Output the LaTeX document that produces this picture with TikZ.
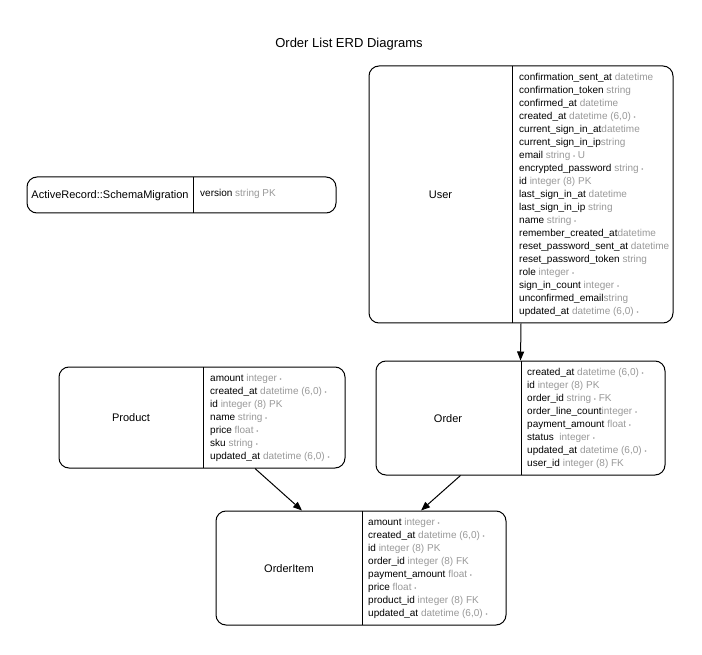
\documentclass[tikz,border=0pt]{standalone}
\usepackage{fontspec}
\setmainfont{Liberation Sans}
\usetikzlibrary{arrows.meta}
\definecolor{typegray}{HTML}{999999}
\newcommand\nnull{{\fontsize{6}{6}\selectfont •}}
\newcommand\erdfields[4]{%
  \foreach \fn/\ft [count=\i] in {#4} {%
    \node[field] (#1-\i) at (#2, {#3+14.5+13*(\i-1)}) {\fn\textcolor{typegray}{\ft}};%
  }%
}
\tikzset{
  entity/.style={draw=black, line width=1pt, rounded corners=10pt, inner sep=0pt},
  field/.style={anchor=base west, inner sep=0pt, font=\fontsize{10}{12}\selectfont},
  entlabel/.style={anchor=base, inner sep=0pt, font=\fontsize{11}{13}\selectfont},
  divider/.style={draw=black, line width=1pt},
  edge/.style={draw=black, line width=1pt, -{Triangle[length=9pt,width=7pt]}},
  titlestyle/.style={anchor=base, inner sep=0pt, font=\fontsize{13}{15}\selectfont}
}
\begin{document}
\begin{tikzpicture}[x=1pt, y=-1pt]
\fill[white] (0,0) rectangle (702,655);
\useasboundingbox (0,0) rectangle (702,655);

\node[titlestyle] (title) at (349,47.7) {Order List ERD Diagrams};

% User
\node[entity, minimum width=304pt, minimum height=257pt] (user) at (521,194.5) {};
\draw[divider] (512,66) -- (512,323);
\node[entlabel] (userlabel) at (440.5,198.5) {User};
\erdfields{userf}{519}{66}{%
  confirmation\_sent\_at/{~datetime},
  confirmation\_token/{~string},
  confirmed\_at/{~datetime},
  created\_at/{~datetime (6,0) \nnull},
  current\_sign\_in\_at/{datetime},
  current\_sign\_in\_ip/{string},
  email/{~string \nnull{} U},
  encrypted\_password/{~string \nnull},
  id/{~integer (8) PK},
  last\_sign\_in\_at/{~datetime},
  last\_sign\_in\_ip/{~string},
  name/{~string \nnull},
  remember\_created\_at/{datetime},
  reset\_password\_sent\_at/{~datetime},
  reset\_password\_token/{~string},
  role/{~integer \nnull},
  sign\_in\_count/{~integer \nnull},
  unconfirmed\_email/{string},
  updated\_at/{~datetime (6,0) \nnull}}

% SchemaMigration
\node[entity, minimum width=309pt, minimum height=36pt] (schema) at (181.5,195) {};
\draw[divider] (193,177) -- (193,213);
\node[entlabel] (schemalabel) at (110,199) {ActiveRecord::SchemaMigration};
\erdfields{schemaf}{200}{182.5}{version/{~string PK}}

% Product
\node[entity, minimum width=286pt, minimum height=101pt] (product) at (202,417.5) {};
\draw[divider] (203,367) -- (203,468);
\node[entlabel] (productlabel) at (131,421.5) {Product};
\erdfields{productf}{210}{367}{%
  amount/{~integer \nnull},
  created\_at/{~datetime (6,0) \nnull},
  id/{~integer (8) PK},
  name/{~string \nnull},
  price/{~float \nnull},
  sku/{~string \nnull},
  updated\_at/{~datetime (6,0) \nnull}}

% Order
\node[entity, minimum width=289pt, minimum height=114pt] (order) at (520.5,418) {};
\draw[divider] (521,361) -- (521,475);
\node[entlabel] (orderlabel) at (448,422) {Order};
\erdfields{orderf}{527}{361}{%
  created\_at/{~datetime (6,0) \nnull},
  id/{~integer (8) PK},
  order\_id/{~string \nnull{} FK},
  order\_line\_count/{integer \nnull},
  payment\_amount/{~float \nnull},
  status/{~~integer \nnull},
  updated\_at/{~datetime (6,0) \nnull},
  user\_id/{~integer (8) FK}}

% OrderItem
\node[entity, minimum width=290pt, minimum height=114pt] (item) at (361,568) {};
\draw[divider] (362,511) -- (362,625);
\node[entlabel] (itemlabel) at (289,572) {OrderItem};
\erdfields{itemf}{368}{511}{%
  amount/{~integer \nnull},
  created\_at/{~datetime (6,0) \nnull},
  id/{~integer (8) PK},
  order\_id/{~integer (8) FK},
  payment\_amount/{~float \nnull},
  price/{~float \nnull},
  product\_id/{~integer (8) FK},
  updated\_at/{~datetime (6,0) \nnull}}

% Relationships
\draw[edge] (user.south) -- (order.north);
\draw[edge] ([xshift=53pt]product.south) -- ([xshift=-59pt]item.north);
\draw[edge] ([xshift=-60pt]order.south) -- ([xshift=60pt]item.north);
\end{tikzpicture}
\end{document}
